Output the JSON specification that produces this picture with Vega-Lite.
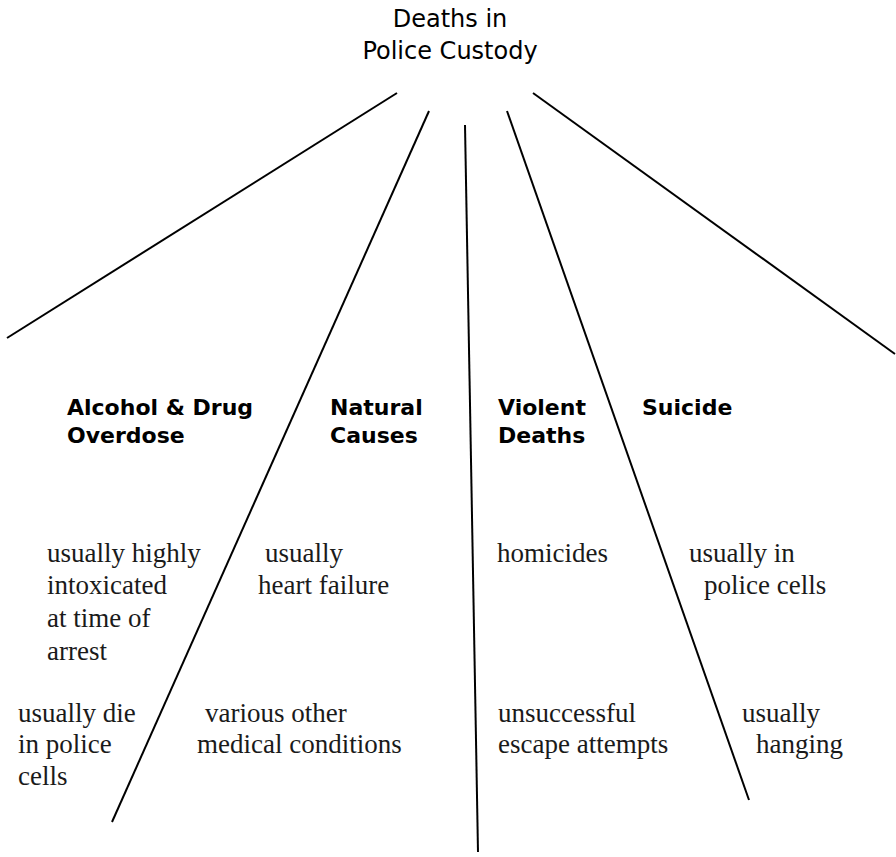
{
  "$schema": "https://vega.github.io/schema/vega-lite/v6.json",
  "width": 896,
  "height": 857,
  "autosize": {"type": "none"},
  "padding": 0,
  "background": "white",
  "config": {"view": {"stroke": null}},
  "datasets": {
    "lines": [
      {"x": 397, "y": 93, "x2": 7, "y2": 338},
      {"x": 429, "y": 111, "x2": 112, "y2": 822},
      {"x": 465, "y": 125, "x2": 478, "y2": 852},
      {"x": 507, "y": 111, "x2": 749, "y2": 800},
      {"x": 533, "y": 93, "x2": 895, "y2": 354}
    ],
    "title": [
      {"x": 450, "y": 27, "t": "Deaths in"},
      {"x": 450, "y": 59, "t": "Police Custody"}
    ],
    "heads": [
      {"x": 67, "y": 415, "t": "Alcohol & Drug"},
      {"x": 67, "y": 443, "t": "Overdose"},
      {"x": 330, "y": 415, "t": "Natural"},
      {"x": 330, "y": 443, "t": "Causes"},
      {"x": 498, "y": 415, "t": "Violent"},
      {"x": 498, "y": 443, "t": "Deaths"},
      {"x": 642, "y": 415, "t": "Suicide"}
    ],
    "notes": [
      {"x": 47, "y": 562, "t": "usually highly"},
      {"x": 47, "y": 594, "t": "intoxicated"},
      {"x": 47, "y": 627, "t": "at time of"},
      {"x": 47, "y": 660, "t": "arrest"},
      {"x": 265, "y": 562, "t": "usually"},
      {"x": 258, "y": 594, "t": "heart failure"},
      {"x": 497, "y": 562, "t": "homicides"},
      {"x": 689, "y": 562, "t": "usually in"},
      {"x": 704, "y": 594, "t": "police cells"},
      {"x": 18, "y": 722, "t": "usually die"},
      {"x": 18, "y": 753, "t": "in police"},
      {"x": 18, "y": 785, "t": "cells"},
      {"x": 205, "y": 722, "t": "various other"},
      {"x": 197, "y": 753, "t": "medical conditions"},
      {"x": 498, "y": 722, "t": "unsuccessful"},
      {"x": 498, "y": 753, "t": "escape attempts"},
      {"x": 742, "y": 722, "t": "usually"},
      {"x": 756, "y": 753, "t": "hanging"}
    ]
  },
  "layer": [
    {
      "data": {"name": "lines"},
      "mark": {"type": "rule", "color": "black", "strokeWidth": 2},
      "encoding": {
        "x": {"field": "x", "type": "quantitative", "scale": {"domain": [0, 896], "nice": false, "zero": false}, "axis": null},
        "y": {"field": "y", "type": "quantitative", "scale": {"domain": [0, 857], "reverse": true, "nice": false, "zero": false}, "axis": null},
        "x2": {"field": "x2"},
        "y2": {"field": "y2"}
      }
    },
    {
      "data": {"name": "title"},
      "mark": {"type": "text", "font": "DejaVu Sans", "fontSize": 24, "align": "center", "baseline": "alphabetic", "color": "black"},
      "encoding": {
        "x": {"field": "x", "type": "quantitative", "scale": {"domain": [0, 896], "nice": false, "zero": false}, "axis": null},
        "y": {"field": "y", "type": "quantitative", "scale": {"domain": [0, 857], "reverse": true, "nice": false, "zero": false}, "axis": null},
        "text": {"field": "t"}
      }
    },
    {
      "data": {"name": "heads"},
      "mark": {"type": "text", "font": "DejaVu Sans", "fontSize": 22, "fontWeight": "bold", "align": "left", "baseline": "alphabetic", "color": "black"},
      "encoding": {
        "x": {"field": "x", "type": "quantitative", "scale": {"domain": [0, 896], "nice": false, "zero": false}, "axis": null},
        "y": {"field": "y", "type": "quantitative", "scale": {"domain": [0, 857], "reverse": true, "nice": false, "zero": false}, "axis": null},
        "text": {"field": "t"}
      }
    },
    {
      "data": {"name": "notes"},
      "mark": {"type": "text", "font": "Liberation Serif", "fontSize": 27, "align": "left", "baseline": "alphabetic", "color": "#1a1a1a"},
      "encoding": {
        "x": {"field": "x", "type": "quantitative", "scale": {"domain": [0, 896], "nice": false, "zero": false}, "axis": null},
        "y": {"field": "y", "type": "quantitative", "scale": {"domain": [0, 857], "reverse": true, "nice": false, "zero": false}, "axis": null},
        "text": {"field": "t"}
      }
    }
  ]
}
